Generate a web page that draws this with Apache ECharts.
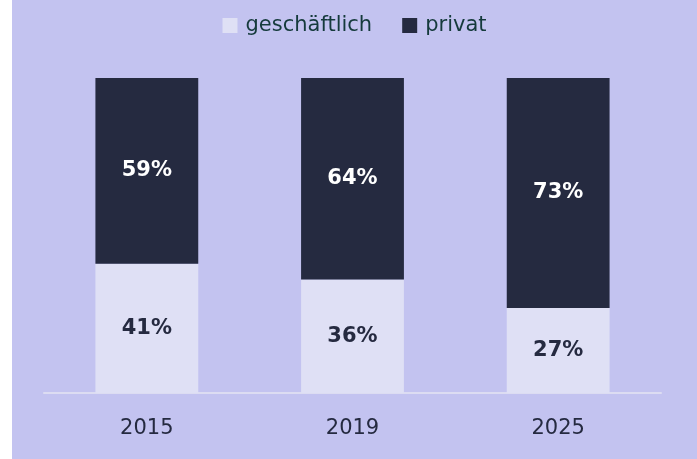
<!DOCTYPE html>
<html>
<head>
<meta charset="utf-8">
<script src="https://cdn.jsdelivr.net/npm/echarts@6/dist/echarts.min.js"></script>
<style>
  html, body { margin: 0; padding: 0; background: #fff; }
  #chart { position: absolute; left: 12px; top: 0; width: 685px; height: 459px; background: #c3c3f0; }
</style>
</head>
<body>
<div id="chart"></div>
<script>
const years = ["2015", "2019", "2025"];
const business = [41, 36, 27];
const personal = [59, 64, 73];

const chart = echarts.init(document.getElementById("chart"));

const font = "'DejaVu Sans', sans-serif";

const labelStyle = {
  show: true,
  position: "inside",
  formatter: "{c}%",
  color: "#252a40",
  fontSize: 21,
  fontWeight: "bold",
  fontFamily: font,
};

chart.setOption({
  backgroundColor: "#c3c3f0",
  legend: {
    top: 10,
    left: "center",
    itemWidth: 15,
    itemHeight: 15,
    itemGap: 30,
    icon: "rect",
    textStyle: { color: "#153a3c", fontSize: 21, fontFamily: font, padding: [0, 0, 0, 3] },
    data: ["geschäftlich", "privat"],
  },
  grid: { left: 32, right: 36, top: 78, bottom: 66 },
  xAxis: {
    type: "category",
    data: years,
    axisLine: { lineStyle: { color: "#dcdcf2", width: 2 } },
    axisTick: { show: false },
    axisLabel: { color: "#252a40", fontSize: 21, margin: 25, fontFamily: font },
  },
  yAxis: { type: "value", min: 0, max: 100, show: false },
  series: [
    {
      name: "geschäftlich",
      type: "bar",
      stack: "total",
      data: business,
      barWidth: "50%",
      itemStyle: { color: "#dfe0f5" },
      label: labelStyle,
    },
    {
      name: "privat",
      type: "bar",
      stack: "total",
      data: personal,
      itemStyle: { color: "#252a40" },
      label: { ...labelStyle, color: "#ffffff" },
    },
  ],
});
</script>
</body>
</html>
